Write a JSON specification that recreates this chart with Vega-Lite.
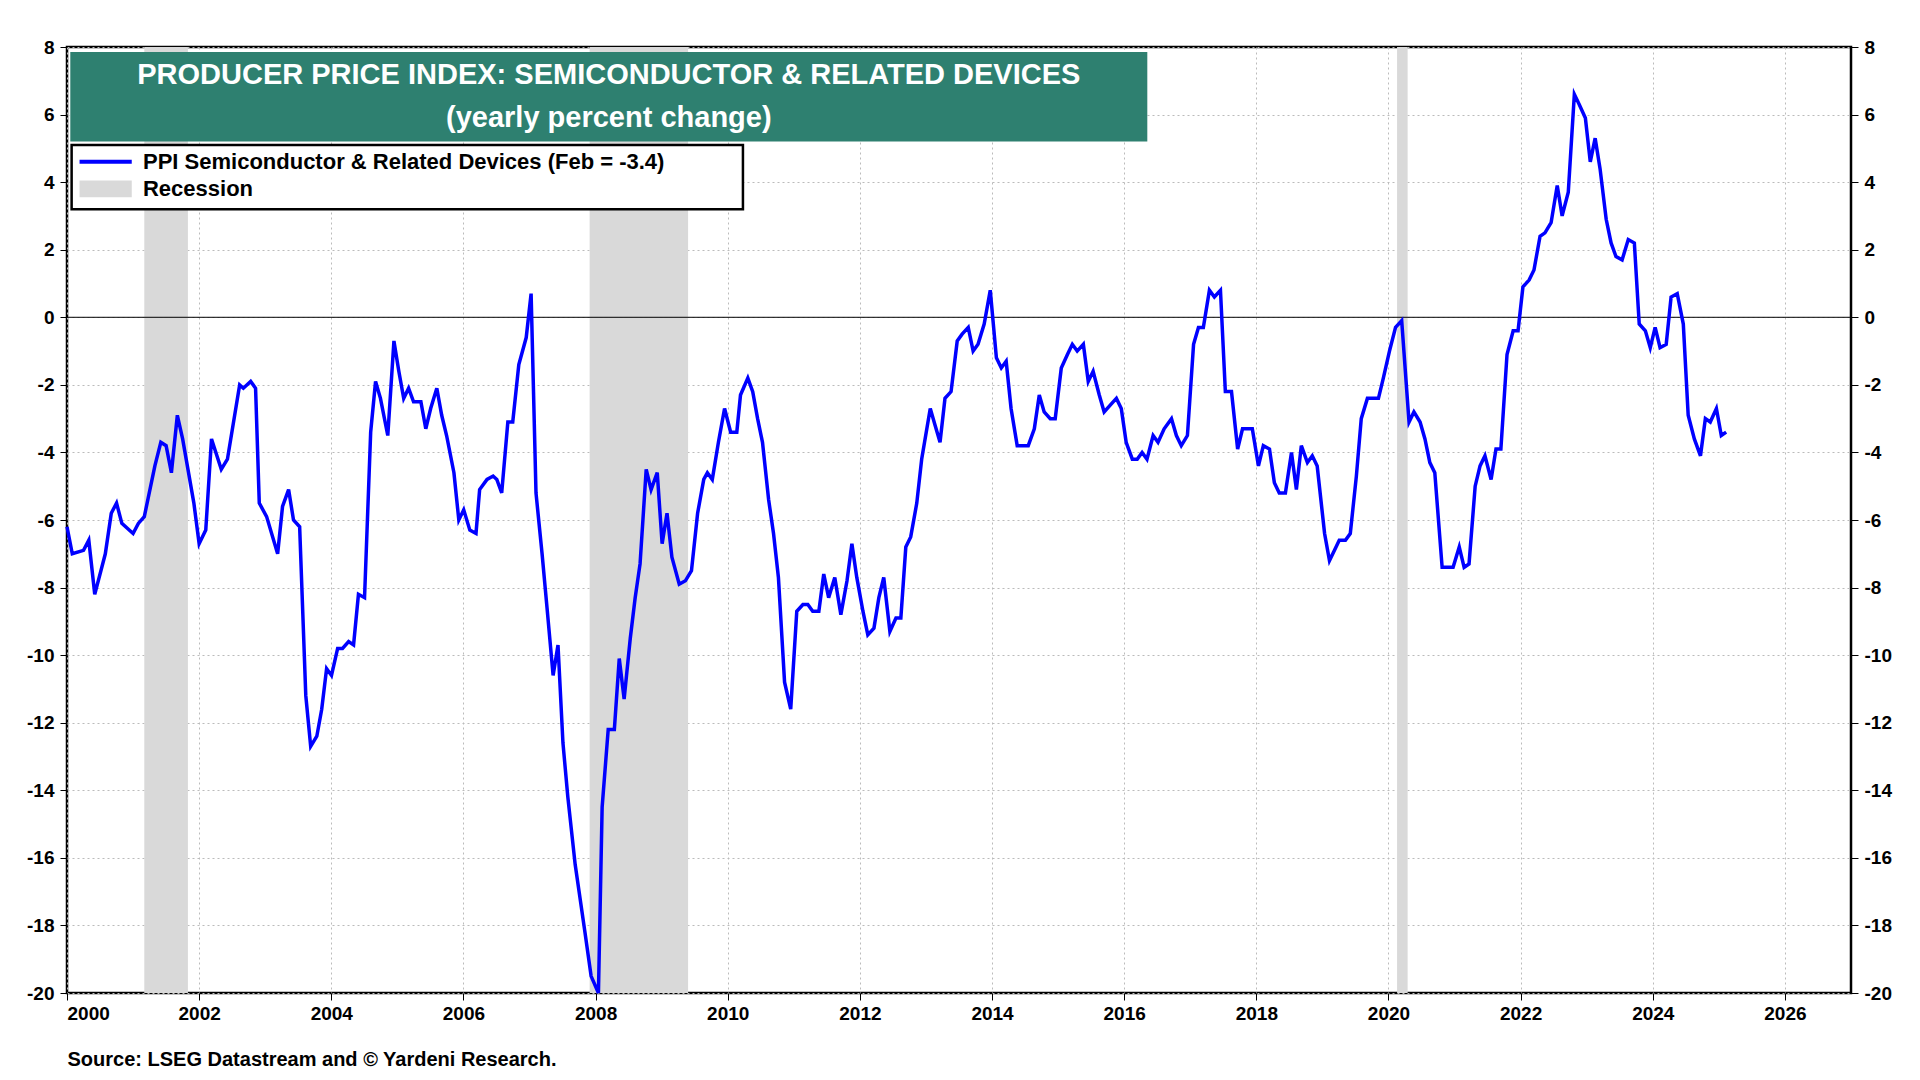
{
"$schema":"https://vega.github.io/schema/vega-lite/v6.json",
"width":1784,"height":946,"autosize":{"type":"none"},
"padding":{"left":67,"top":47,"right":69,"bottom":87},
"background":"white",
"config":{"view":{"stroke":"black","strokeWidth":2.5},"font":"Liberation Sans",
"axis":{"labelFont":"Liberation Sans","labelFontSize":19,"labelFontWeight":"bold","labelColor":"black","tickColor":"black","tickSize":7,"domain":false,"gridColor":"#bbbbbb","gridDash":[2,3],"gridWidth":1}},
"datasets":{
"rec":[{"a":2001.17,"b":2001.83},{"a":2007.91,"b":2009.40},{"a":2020.13,"b":2020.29}],
"ppi":[
{"t":2000.0,"v":-6.2},{"t":2000.08,"v":-7.0},{"t":2000.25,"v":-6.9},{"t":2000.33,"v":-6.6},{"t":2000.42,"v":-8.2},{"t":2000.58,"v":-7.0},{"t":2000.67,"v":-5.8},{"t":2000.75,"v":-5.5},{"t":2000.83,"v":-6.1},{"t":2001.0,"v":-6.4},{"t":2001.08,"v":-6.1},{"t":2001.17,"v":-5.9},{"t":2001.33,"v":-4.4},{"t":2001.42,"v":-3.7},{"t":2001.5,"v":-3.8},{"t":2001.58,"v":-4.6},{"t":2001.67,"v":-2.9},{"t":2001.75,"v":-3.6},{"t":2001.92,"v":-5.5},{"t":2002.0,"v":-6.7},{"t":2002.1,"v":-6.3},
{"t":2002.187,"v":-3.6},{"t":2002.335,"v":-4.5},{"t":2002.428,"v":-4.2},{"t":2002.613,"v":-2.0},{"t":2002.669,"v":-2.1},{"t":2002.78,"v":-1.9},{"t":2002.854,"v":-2.1},{"t":2002.91,"v":-5.5},{"t":2003.021,"v":-5.9},{"t":2003.188,"v":-7.0},{"t":2003.262,"v":-5.6},{"t":2003.354,"v":-5.1},{"t":2003.428,"v":-6.0},{"t":2003.521,"v":-6.2},{"t":2003.614,"v":-11.2},{"t":2003.688,"v":-12.7},{"t":2003.781,"v":-12.4},{"t":2003.855,"v":-11.6},{"t":2003.929,"v":-10.4},{"t":2004.003,"v":-10.6},{"t":2004.096,"v":-9.8},{"t":2004.17,"v":-9.8},{"t":2004.262,"v":-9.6},{"t":2004.337,"v":-9.7},{"t":2004.411,"v":-8.2},{"t":2004.503,"v":-8.3},{"t":2004.596,"v":-3.4},{"t":2004.67,"v":-1.9},{"t":2004.744,"v":-2.4},{"t":2004.855,"v":-3.5},{"t":2004.948,"v":-0.7},{"t":2005.022,"v":-1.6},{"t":2005.096,"v":-2.4},{"t":2005.17,"v":-2.1},{"t":2005.245,"v":-2.5},{"t":2005.356,"v":-2.5},{"t":2005.43,"v":-3.3},{"t":2005.504,"v":-2.7},{"t":2005.597,"v":-2.1},{"t":2005.671,"v":-2.9},{"t":2005.745,"v":-3.5},{"t":2005.856,"v":-4.6},{"t":2005.93,"v":-6.0},{"t":2006.004,"v":-5.7},{"t":2006.097,"v":-6.3},{"t":2006.19,"v":-6.4},{"t":2006.245,"v":-5.1},{"t":2006.357,"v":-4.8},{"t":2006.449,"v":-4.7},{"t":2006.505,"v":-4.8},{"t":2006.579,"v":-5.2},{"t":2006.672,"v":-3.1},{"t":2006.746,"v":-3.1},{"t":2006.838,"v":-1.4},{"t":2006.95,"v":-0.6},{"t":2007.024,"v":0.7},{"t":2007.098,"v":-5.2},{"t":2007.19,"v":-7.0},{"t":2007.265,"v":-8.6},{"t":2007.357,"v":-10.6},{"t":2007.431,"v":-9.7},{"t":2007.506,"v":-12.6},{"t":2007.58,"v":-14.2},{"t":2007.691,"v":-16.2},{"t":2007.839,"v":-18.2},{"t":2007.932,"v":-19.5},{"t":2008.043,"v":-20.0},{"t":2008.099,"v":-14.5},{"t":2008.191,"v":-12.2},{"t":2008.284,"v":-12.2},{"t":2008.358,"v":-10.1},{"t":2008.432,"v":-11.3},{"t":2008.525,"v":-9.5},{"t":2008.599,"v":-8.3},{"t":2008.673,"v":-7.3},{"t":2008.766,"v":-4.5},{"t":2008.84,"v":-5.1},{"t":2008.933,"v":-4.6},{"t":2009.007,"v":-6.7},{"t":2009.081,"v":-5.8},{"t":2009.155,"v":-7.1},{"t":2009.266,"v":-7.9},{"t":2009.359,"v":-7.8},{"t":2009.451,"v":-7.5},{"t":2009.544,"v":-5.8},{"t":2009.637,"v":-4.8},{"t":2009.692,"v":-4.6},{"t":2009.766,"v":-4.8},{"t":2009.859,"v":-3.7},{"t":2009.952,"v":-2.7},{"t":2010.044,"v":-3.4},{"t":2010.137,"v":-3.4},{"t":2010.193,"v":-2.3},{"t":2010.304,"v":-1.8},{"t":2010.378,"v":-2.2},{"t":2010.452,"v":-3.0},{"t":2010.526,"v":-3.7},{"t":2010.619,"v":-5.4},{"t":2010.693,"v":-6.4},{"t":2010.767,"v":-7.7},{"t":2010.86,"v":-10.8},{"t":2010.953,"v":-11.6},{"t":2011.045,"v":-8.7},{"t":2011.138,"v":-8.5},{"t":2011.212,"v":-8.5},{"t":2011.286,"v":-8.7},{"t":2011.379,"v":-8.7},{"t":2011.453,"v":-7.6},{"t":2011.527,"v":-8.3},{"t":2011.62,"v":-7.7},{"t":2011.712,"v":-8.8},{"t":2011.805,"v":-7.8},{"t":2011.879,"v":-6.7},{"t":2011.953,"v":-7.7},{"t":2012.046,"v":-8.7},{"t":2012.12,"v":-9.4},{"t":2012.213,"v":-9.2},{"t":2012.287,"v":-8.3},{"t":2012.361,"v":-7.7},{"t":2012.454,"v":-9.3},{"t":2012.546,"v":-8.9},{"t":2012.62,"v":-8.9},{"t":2012.695,"v":-6.8},{"t":2012.769,"v":-6.5},{"t":2012.861,"v":-5.5},{"t":2012.935,"v":-4.2},{"t":2013.065,"v":-2.7},{"t":2013.139,"v":-3.2},{"t":2013.213,"v":-3.7},{"t":2013.288,"v":-2.4},{"t":2013.38,"v":-2.2},{"t":2013.473,"v":-0.7},{"t":2013.547,"v":-0.5},{"t":2013.64,"v":-0.3},{"t":2013.714,"v":-1.0},{"t":2013.788,"v":-0.8},{"t":2013.881,"v":-0.2},{"t":2013.973,"v":0.8},{"t":2014.066,"v":-1.2},{"t":2014.14,"v":-1.5},{"t":2014.214,"v":-1.3},{"t":2014.288,"v":-2.7},{"t":2014.381,"v":-3.8},{"t":2014.455,"v":-3.8},{"t":2014.548,"v":-3.8},{"t":2014.64,"v":-3.3},{"t":2014.715,"v":-2.3},{"t":2014.789,"v":-2.8},{"t":2014.881,"v":-3.0},{"t":2014.956,"v":-3.0},{"t":2015.048,"v":-1.5},{"t":2015.141,"v":-1.1},{"t":2015.215,"v":-0.8},{"t":2015.289,"v":-1.0},{"t":2015.382,"v":-0.8},{"t":2015.456,"v":-1.9},{"t":2015.53,"v":-1.6},{"t":2015.623,"v":-2.3},{"t":2015.697,"v":-2.8},{"t":2015.789,"v":-2.6},{"t":2015.882,"v":-2.4},{"t":2015.956,"v":-2.7},{"t":2016.03,"v":-3.7},{"t":2016.123,"v":-4.2},{"t":2016.197,"v":-4.2},{"t":2016.271,"v":-4.0},{"t":2016.345,"v":-4.2},{"t":2016.438,"v":-3.5},{"t":2016.512,"v":-3.7},{"t":2016.605,"v":-3.3},{"t":2016.716,"v":-3.0},{"t":2016.79,"v":-3.5},{"t":2016.864,"v":-3.8},{"t":2016.957,"v":-3.5},{"t":2017.05,"v":-0.8},{"t":2017.124,"v":-0.3},{"t":2017.198,"v":-0.3},{"t":2017.29,"v":0.8},{"t":2017.365,"v":0.6},{"t":2017.457,"v":0.8},{"t":2017.531,"v":-2.2},{"t":2017.624,"v":-2.2},{"t":2017.717,"v":-3.9},{"t":2017.791,"v":-3.3},{"t":2017.865,"v":-3.3},{"t":2017.939,"v":-3.3},{"t":2018.032,"v":-4.4},{"t":2018.106,"v":-3.8},{"t":2018.199,"v":-3.9},{"t":2018.273,"v":-4.9},{"t":2018.347,"v":-5.2},{"t":2018.44,"v":-5.2},{"t":2018.532,"v":-4.0},{"t":2018.606,"v":-5.1},{"t":2018.681,"v":-3.8},{"t":2018.773,"v":-4.3},{"t":2018.847,"v":-4.1},{"t":2018.921,"v":-4.4},{"t":2019.033,"v":-6.4},{"t":2019.107,"v":-7.2},{"t":2019.181,"v":-6.9},{"t":2019.255,"v":-6.6},{"t":2019.348,"v":-6.6},{"t":2019.422,"v":-6.4},{"t":2019.514,"v":-4.7},{"t":2019.588,"v":-3.0},{"t":2019.681,"v":-2.4},{"t":2019.755,"v":-2.4},{"t":2019.848,"v":-2.4},{"t":2019.922,"v":-1.8},{"t":2020.015,"v":-1.0},{"t":2020.107,"v":-0.3},{"t":2020.2,"v":-0.1},{"t":2020.311,"v":-3.1},{"t":2020.385,"v":-2.8},{"t":2020.478,"v":-3.1},{"t":2020.552,"v":-3.6},{"t":2020.626,"v":-4.3},{"t":2020.701,"v":-4.6},{"t":2020.812,"v":-7.4},{"t":2020.904,"v":-7.4},{"t":2020.978,"v":-7.4},{"t":2021.071,"v":-6.8},{"t":2021.145,"v":-7.4},{"t":2021.219,"v":-7.3},{"t":2021.312,"v":-5.0},{"t":2021.386,"v":-4.4},{"t":2021.46,"v":-4.1},{"t":2021.553,"v":-4.8},{"t":2021.627,"v":-3.9},{"t":2021.701,"v":-3.9},{"t":2021.794,"v":-1.1},{"t":2021.887,"v":-0.4},{"t":2021.961,"v":-0.4},{"t":2022.035,"v":0.9},{"t":2022.128,"v":1.1},{"t":2022.202,"v":1.4},{"t":2022.294,"v":2.4},{"t":2022.368,"v":2.5},{"t":2022.461,"v":2.8},{"t":2022.554,"v":3.9},{"t":2022.628,"v":3.0},{"t":2022.721,"v":3.7},{"t":2022.813,"v":6.6},{"t":2022.887,"v":6.3},{"t":2022.98,"v":5.9},{"t":2023.054,"v":4.6},{"t":2023.128,"v":5.3},{"t":2023.202,"v":4.4},{"t":2023.295,"v":2.9},{"t":2023.369,"v":2.2},{"t":2023.443,"v":1.8},{"t":2023.536,"v":1.7},{"t":2023.629,"v":2.3},{"t":2023.721,"v":2.2},{"t":2023.795,"v":-0.2},{"t":2023.888,"v":-0.4},{"t":2023.962,"v":-0.9},{"t":2024.036,"v":-0.3},{"t":2024.11,"v":-0.9},{"t":2024.203,"v":-0.8},{"t":2024.277,"v":0.6},{"t":2024.37,"v":0.7},{"t":2024.462,"v":-0.2},{"t":2024.536,"v":-2.9},{"t":2024.629,"v":-3.6},{"t":2024.722,"v":-4.1},{"t":2024.796,"v":-3.0},{"t":2024.87,"v":-3.1},{"t":2024.963,"v":-2.7},{"t":2025.037,"v":-3.5},{"t":2025.111,"v":-3.4}
]},
"resolve":{"axis":{"y":"independent","x":"independent"}},
"layer":[
{"data":{"name":"rec"},"mark":{"type":"rect","color":"#d9d9d9"},
"encoding":{"x":{"field":"a","type":"quantitative","scale":{"domain":[2000,2027],"nice":false},"axis":null},"x2":{"field":"b"}}},
{"data":{"values":[{"z":0}]},"mark":{"type":"rule","color":"black","strokeWidth":1},
"encoding":{"y":{"field":"z","type":"quantitative","scale":{"domain":[-20,8],"nice":false},"axis":{"orient":"right","values":[-20,-18,-16,-14,-12,-10,-8,-6,-4,-2,0,2,4,6,8],"labelExpr":"replace(datum.label, '−', '-')","title":null,"grid":false,"labelPadding":6}}}},
{"data":{"name":"ppi"},"mark":{"type":"line","color":"#0000ff","strokeWidth":3.5},
"encoding":{"x":{"field":"t","type":"quantitative","scale":{"domain":[2000,2027],"nice":false},"axis":{"values":[2000,2002,2004,2006,2008,2010,2012,2014,2016,2018,2020,2022,2024,2026],"format":"d","grid":true,"title":"Source: LSEG Datastream and © Yardeni Research.","titleFont":"Liberation Sans","titleFontSize":20,"titleFontWeight":"bold","titleAnchor":"start","titleAlign":"left","titleBaseline":"middle","titleX":0,"titleY":66,"labelPadding":4}},
"y":{"field":"v","type":"quantitative","scale":{"domain":[-20,8],"nice":false},"axis":{"values":[-20,-18,-16,-14,-12,-10,-8,-6,-4,-2,0,2,4,6,8],"labelExpr":"replace(datum.label, '−', '-')","title":null,"grid":true,"labelPadding":6}}}},
{"data":{"values":[{"a":2000.05,"b":2016.35,"c":7.85,"d":5.2}]},"mark":{"type":"rect","color":"#2e8070"},
"encoding":{"x":{"field":"a","type":"quantitative","axis":null},"x2":{"field":"b"},"y":{"field":"c","type":"quantitative","axis":null},"y2":{"field":"d"}}},
{"data":{"values":[{"x":2008.2,"y":7.17,"s":"PRODUCER PRICE INDEX: SEMICONDUCTOR & RELATED DEVICES"},{"x":2008.2,"y":5.9,"s":"(yearly percent change)"}]},
"mark":{"type":"text","color":"white","font":"Liberation Sans","fontSize":29,"fontWeight":"bold","align":"center","baseline":"middle"},
"encoding":{"x":{"field":"x","type":"quantitative","axis":null},"y":{"field":"y","type":"quantitative","axis":null},"text":{"field":"s"}}},
{"data":{"values":[{"a":2000.07,"b":2010.23,"c":5.1,"d":3.2}]},"mark":{"type":"rect","fill":"white","stroke":"black","strokeWidth":2.5},
"encoding":{"x":{"field":"a","type":"quantitative","axis":null},"x2":{"field":"b"},"y":{"field":"c","type":"quantitative","axis":null},"y2":{"field":"d"}}},
{"data":{"values":[{"a":2000.19,"b":2000.98,"c":4.6}]},"mark":{"type":"rule","color":"#0000ff","strokeWidth":4},
"encoding":{"x":{"field":"a","type":"quantitative","axis":null},"x2":{"field":"b"},"y":{"field":"c","type":"quantitative","axis":null}}},
{"data":{"values":[{"a":2000.19,"b":2000.98,"c":4.05,"d":3.55}]},"mark":{"type":"rect","color":"#d9d9d9"},
"encoding":{"x":{"field":"a","type":"quantitative","axis":null},"x2":{"field":"b"},"y":{"field":"c","type":"quantitative","axis":null},"y2":{"field":"d"}}},
{"data":{"values":[{"x":2001.15,"y":4.6,"s":"PPI Semiconductor & Related Devices (Feb  = -3.4)"},{"x":2001.15,"y":3.8,"s":"Recession"}]},
"mark":{"type":"text","color":"black","font":"Liberation Sans","fontSize":22,"fontWeight":"bold","align":"left","baseline":"middle"},
"encoding":{"x":{"field":"x","type":"quantitative","axis":null},"y":{"field":"y","type":"quantitative","axis":null},"text":{"field":"s"}}}
]
}
